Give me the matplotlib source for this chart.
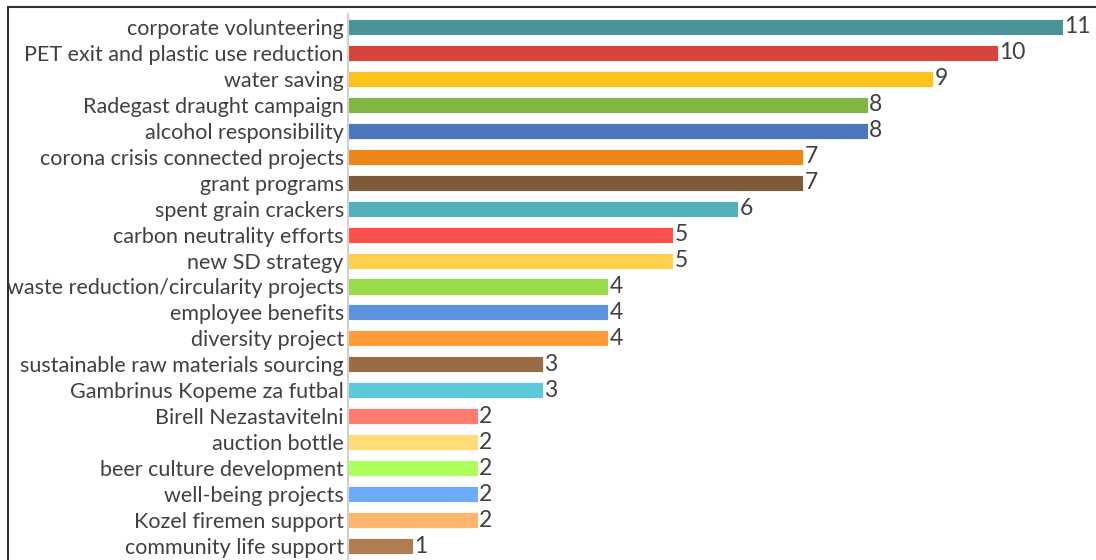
import matplotlib.pyplot as plt
from matplotlib.patches import Rectangle

categories = [
    "corporate volunteering", "PET exit and plastic use reduction", "water saving",
    "Radegast draught campaign", "alcohol responsibility", "corona crisis connected projects",
    "grant programs", "spent grain crackers", "carbon neutrality efforts", "new SD strategy",
    "waste reduction/circularity projects", "employee benefits", "diversity project",
    "sustainable raw materials sourcing", "Gambrinus Kopeme za futbal", "Birell Nezastavitelni",
    "auction bottle", "beer culture development", "well-being projects",
    "Kozel firemen support", "community life support",
]
counts = [11, 10, 9, 8, 8, 7, 7, 6, 5, 5, 4, 4, 4, 3, 3, 2, 2, 2, 2, 2, 1]
colors = [
    "#4A9399", "#D5443D", "#FCC31C", "#82B642", "#4C77BE", "#EF8519", "#7F5A3A",
    "#53AFBC", "#FF4F4A", "#FFD04B", "#9ADB4D", "#5C92E0", "#FF9C3A", "#9B6B45",
    "#5CC8DA", "#FF7B70", "#FFDC78", "#AEFF5C", "#6EAAFF", "#FFB56B", "#B07D52",
]

plt.rcParams['font.family'] = ['Lato', 'DejaVu Sans']
text_color = "#404040"
fs = 15.5

fig = plt.figure(figsize=(10.96, 5.60), dpi=100)
ax = fig.add_axes([348 / 1096, 1 - 559 / 560, (1063 - 348) / 1096, 545 / 560])

y = list(range(len(categories)))
ax.barh(y, counts, height=0.62, color=colors, edgecolor="white", linewidth=0.6)
for yi, v in zip(y, counts):
    ax.text(v + 0.02, yi, str(v), va="center", ha="left", fontsize=fs + 1,
            color=text_color, clip_on=False)

ax.set_xlim(0, 11)
ax.set_ylim(len(categories) - 0.5, -0.5)
ax.set_yticks(y)
ax.set_yticklabels(categories, fontsize=fs, color=text_color)
ax.tick_params(axis="y", length=0, pad=3)
ax.set_xticks([])
for s in ["top", "right", "bottom"]:
    ax.spines[s].set_visible(False)
ax.spines["left"].set_color("#d0d0d0")
ax.spines["left"].set_linewidth(1.5)

# outer frame (only top and left edges visible in the crop)
fig.patches.append(Rectangle((8 / 1096, -0.1), 1.2, 1 - 7 / 560 + 0.1,
                             transform=fig.transFigure, fill=False,
                             edgecolor="#333333", linewidth=1.5))

fig.savefig("out.png", dpi=100, facecolor="white")
